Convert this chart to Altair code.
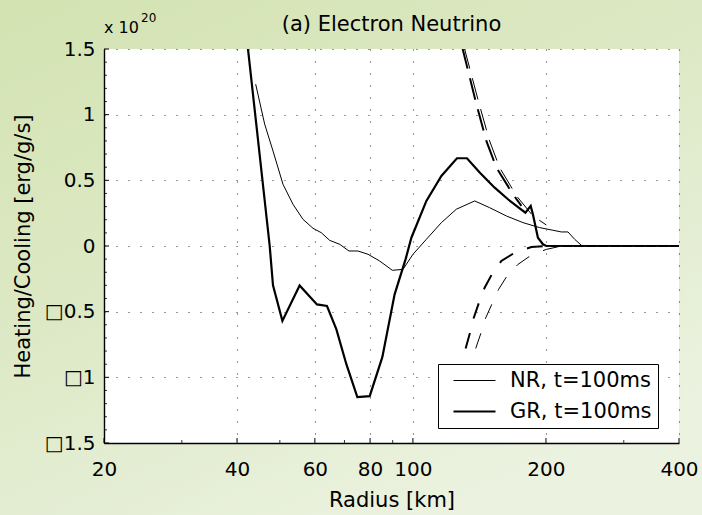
import altair as alt
import pandas as pd

FONT = "DejaVu Sans"
W, H = 575, 394

# ---- data (values in units of 1e20 erg/g/s) ----
nr_r = [44.08, 46.19, 48.24, 50.82, 53.53, 56.40, 59.41, 62.06, 64.81, 68.28,
        71.67, 75.10, 79.13, 84.08, 89.83, 94.96, 100.03, 107.27, 115.99, 125.4,
        137.96, 149.1, 162.7, 177.4, 193.6, 207.4, 216.7, 224.3, 232.3, 240.6,
        251.1, 400]
nr_v = [1.232, 0.928, 0.724, 0.47, 0.318, 0.203, 0.135, 0.101, 0.043, 0.013,
        -0.038, -0.038, -0.063, -0.114, -0.185, -0.178, -0.063, 0.051, 0.178, 0.28,
        0.343, 0.292, 0.229, 0.178, 0.14, 0.12, 0.107, 0.107, 0.051, 0.005,
        0.0, 0.0]
gr_r = [40.78, 47.42, 48.24, 50.66, 55.42, 60.66, 63.91, 67.12, 70.70, 74.86,
        79.84, 85.27, 90.91, 96.27, 99.20, 107.27, 115.99, 125.79, 132.52, 141.6,
        153.1, 164.1, 174.4, 179.7, 184.7, 186.9, 191.8, 196.9, 200.4, 400]
gr_v = [2.0, 0.0, -0.3, -0.57, -0.3, -0.445, -0.457, -0.635, -0.9, -1.15,
        -1.143, -0.846, -0.368, -0.1, 0.063, 0.343, 0.533, 0.668, 0.668, 0.559,
        0.444, 0.356, 0.287, 0.254, 0.305, 0.24, 0.063, 0.013, 0.0, 0.0]

up_thick_r = [127.0, 129.6, 139.2, 146.6, 154.5, 168.4, 176.0]
up_thick_v = [2.0, 1.5, 1.08, 0.8, 0.597, 0.394, 0.305]
up_thin_r = [128.2, 130.9, 141.25, 149.1, 157.1, 171.7, 186.9, 200.4]
up_thin_v = [2.0, 1.5, 1.08, 0.8, 0.597, 0.38, 0.229, 0.16]
lo_thick_r = [131.6, 134.4, 137.2, 141.1, 145.3, 151.2, 158.5, 169.9, 185.4, 200.4]
lo_thick_v = [-0.78, -0.67, -0.55, -0.43, -0.318, -0.21, -0.114, -0.051, -0.008, 0.0]
lo_thin_r = [138.7, 142.3, 146.0, 151.0, 156.3, 163.2, 172.9, 185.4, 200.4, 216.7]
lo_thin_v = [-0.78, -0.67, -0.55, -0.44, -0.33, -0.229, -0.14, -0.069, -0.026, 0.0]

series_names = ["NR, t=100ms", "GR, t=100ms"]

x_ticks = [20, 40, 60, 80, 100, 200, 400]
x_minor = [30, 50, 70, 90, 300]
y_ticks = [-1.5, -1.0, -0.5, 0.0, 0.5, 1.0, 1.5]
y_minor = [-1.4, -1.3, -1.2, -1.1, -0.9, -0.8, -0.7, -0.6, -0.4, -0.3, -0.2, -0.1,
           0.1, 0.2, 0.3, 0.4, 0.6, 0.7, 0.8, 0.9, 1.1, 1.2, 1.3, 1.4]

title_text = "(a) Electron Neutrino"
x_title = "Radius [km]"
y_title = "Heating/Cooling [erg/g/s]"

# ---- tables ----
solid = pd.concat([
    pd.DataFrame({"r": nr_r, "v": nr_v, "series": series_names[0]}),
    pd.DataFrame({"r": gr_r, "v": gr_v, "series": series_names[1]}),
])
one = pd.DataFrame({"a": [0]})

xscale = alt.Scale(type="log", domain=[20, 400], nice=False)
yscale = alt.Scale(domain=[-1.5, 1.5], nice=False)

xaxis = alt.Axis(values=x_ticks, format="d", title=x_title, grid=True,
                 gridDash=[1, 11], gridColor="#333333", gridWidth=1.1,
                 domainColor="black", domainWidth=1.4, ticks=False, tickSize=0,
                 labelPadding=16, titlePadding=10, labelFlush=False,
                 labelOverlap=False, zindex=1)
yaxis = alt.Axis(values=y_ticks,
                 labelExpr="datum.value < 0 ? '\u25a1' + format(-datum.value, '~g') : format(datum.value, '~g')",
                 title=y_title, grid=True, gridDash=[1, 11], gridColor="#333333",
                 gridWidth=1.1, domainColor="black", domainWidth=1.4, ticks=False,
                 tickSize=0, labelPadding=9, titlePadding=11, labelOverlap=False,
                 zindex=1)

X = alt.X("r:Q", scale=xscale, axis=xaxis)
Y = alt.Y("v:Q", scale=yscale, axis=yaxis)

grad = alt.LinearGradient(
    gradient="linear",
    stops=[alt.GradientStop(color="#d3e3b1", offset=0),
           alt.GradientStop(color="#dde9c6", offset=0.5),
           alt.GradientStop(color="#ebf2df", offset=1)],
    x1=0, y1=0, x2=0.6, y2=1)

bg = alt.Chart(one).mark_rect(fill=grad).encode(
    x=alt.value(-104), x2=alt.value(W + 23), y=alt.value(-49), y2=alt.value(H + 72))
plotbg = alt.Chart(one).mark_rect(fill="white").encode(
    x=alt.value(0), x2=alt.value(W), y=alt.value(0), y2=alt.value(H))


def dashed(rs, vs, width, dash):
    return alt.Chart(pd.DataFrame({"r": rs, "v": vs})).mark_line(
        color="black", strokeWidth=width, strokeDash=dash, clip=True).encode(x=X, y=Y)


d1 = dashed(up_thick_r, up_thick_v, 2.0, [22, 10])
d2 = dashed(up_thin_r, up_thin_v, 1.0, [22, 10])
d3 = dashed(lo_thick_r, lo_thick_v, 2.0, [16, 15])
d4 = dashed(lo_thin_r, lo_thin_v, 1.0, [16, 15])

lines = alt.Chart(solid).mark_line(color="black", clip=True).encode(
    x=X, y=Y,
    strokeWidth=alt.StrokeWidth(
        "series:N",
        scale=alt.Scale(domain=series_names, range=[1.0, 2.2]),
        sort=series_names,
        legend=alt.Legend(orient="none", legendX=334, legendY=315, title=None,
                          fillColor="white", strokeColor="black", padding=6,
                          symbolType="stroke", symbolSize=1764,
                          symbolStrokeColor="black", clipHeight=21,
                          labelFont=FONT, labelFontSize=21, labelColor="black",
                          labelOffset=13, rowPadding=9, symbolOffset=8,
                          labelExpr="datum.label + '\u00a0\u00a0'",
                          zindex=2)),
)

xt_major = alt.Chart(pd.DataFrame({"r": x_ticks})).mark_rule(color="black", strokeWidth=1).encode(
    x=X, y=alt.value(H), y2=alt.value(H - 5))
xt_minor = alt.Chart(pd.DataFrame({"r": x_minor})).mark_rule(color="black", strokeWidth=0.8).encode(
    x=X, y=alt.value(H), y2=alt.value(H - 3))
yt_major = alt.Chart(pd.DataFrame({"v": y_ticks})).mark_rule(color="black", strokeWidth=1).encode(
    y=Y, x=alt.value(0), x2=alt.value(5))
yt_minor = alt.Chart(pd.DataFrame({"v": y_minor})).mark_rule(color="black", strokeWidth=0.8).encode(
    y=Y, x=alt.value(0), x2=alt.value(3))

title = alt.Chart(one).mark_text(text=title_text, font=FONT, fontSize=21, color="black",
                                 align="center", baseline="alphabetic").encode(
    x=alt.value(W / 2), y=alt.value(-18))
mult = alt.Chart(one).mark_text(text="x 10", font=FONT, fontSize=16, color="black",
                                align="left", baseline="alphabetic").encode(
    x=alt.value(0), y=alt.value(-16))
expo = alt.Chart(one).mark_text(text="20", font=FONT, fontSize=12, color="black",
                                align="left", baseline="alphabetic").encode(
    x=alt.value(37), y=alt.value(-27))

chart = alt.layer(
    bg, plotbg, d1, d2, d3, d4, lines, xt_major, xt_minor, yt_major, yt_minor,
    title, mult, expo
).properties(
    width=W, height=H,
    autosize=alt.AutoSizeParams(type="none"),
    padding={"left": 104, "top": 49, "right": 23, "bottom": 72},
).configure(
    background="#dfeac9",
).configure_view(
    stroke=None,
).configure_axis(
    labelFont=FONT, labelFontSize=20, labelColor="black",
    titleFont=FONT, titleFontSize=21, titleColor="black", titleFontWeight="normal",
)

chart.save("out.html", embed_options={"renderer": "svg", "actions": False})
